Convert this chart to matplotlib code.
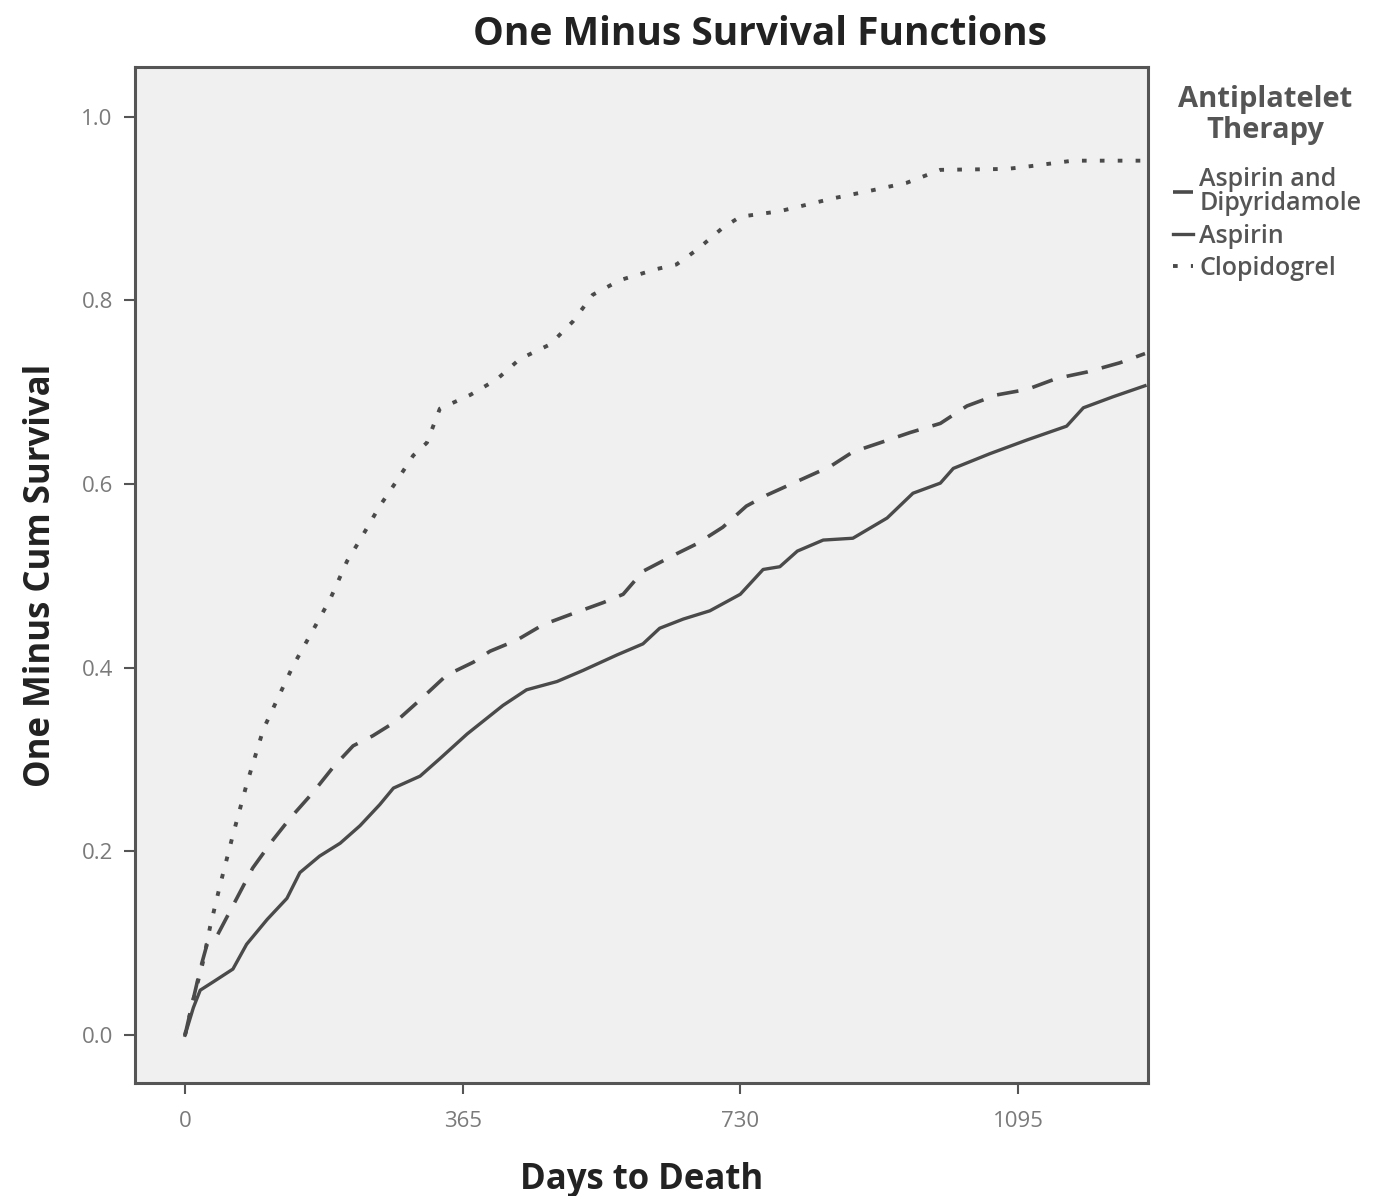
import matplotlib.pyplot as plt
import numpy as np

# Kaplan-Meier style curves (days, 1 - survival)
asp_days = [0, 11, 20, 37, 63, 81, 108, 134, 151, 177, 204, 230, 256, 274, 309, 335, 371,
            418, 449, 489, 523, 568, 602, 624, 655, 690, 730, 760, 782, 805, 839, 878, 923,
            957, 993, 1010, 1058, 1107, 1159, 1181, 1220, 1262]
asp_vals = [0, 0.030, 0.049, 0.058, 0.072, 0.099, 0.126, 0.149, 0.177, 0.195, 0.209, 0.228,
            0.251, 0.269, 0.282, 0.301, 0.328, 0.359, 0.376, 0.385, 0.397, 0.414, 0.426, 0.443,
            0.453, 0.462, 0.480, 0.507, 0.510, 0.527, 0.539, 0.541, 0.563, 0.590, 0.601, 0.617,
            0.633, 0.648, 0.663, 0.683, 0.695, 0.707]

dip_days = [0, 20, 29, 42, 63, 89, 116, 138, 168, 195, 221, 247, 278, 309, 344, 379, 401,
            436, 471, 510, 550, 576, 602, 646, 673, 707, 738, 765, 805, 848, 878, 914, 953,
            993, 1028, 1067, 1107, 1146, 1186, 1229, 1262]
dip_vals = [0, 0.072, 0.099, 0.108, 0.141, 0.182, 0.213, 0.236, 0.264, 0.292, 0.315, 0.326,
            0.342, 0.365, 0.392, 0.406, 0.418, 0.430, 0.447, 0.459, 0.471, 0.480, 0.505, 0.524,
            0.535, 0.553, 0.576, 0.588, 0.603, 0.619, 0.635, 0.645, 0.656, 0.666, 0.685, 0.697,
            0.703, 0.715, 0.722, 0.732, 0.742]

clo_days = [0, 11, 24, 33, 46, 63, 81, 103, 121, 142, 173, 191, 213, 230, 256, 278, 300, 318,
            335, 375, 410, 440, 480, 510, 536, 572, 620, 646, 673, 707, 730, 782, 852, 905,
            949, 993, 1080, 1102, 1167, 1262]
clo_vals = [0, 0.039, 0.081, 0.118, 0.163, 0.218, 0.273, 0.333, 0.365, 0.402, 0.448, 0.475,
            0.516, 0.539, 0.576, 0.603, 0.631, 0.645, 0.682, 0.697, 0.714, 0.736, 0.752, 0.777,
            0.806, 0.822, 0.834, 0.839, 0.855, 0.879, 0.891, 0.897, 0.911, 0.920, 0.928, 0.942,
            0.943, 0.945, 0.952, 0.952]

x_ticks = [0, 365, 730, 1095]
y_ticks = [0.0, 0.2, 0.4, 0.6, 0.8, 1.0]

plt.rcParams['font.family'] = ['Open Sans', 'DejaVu Sans']

fig = plt.figure(figsize=(13.82, 11.96), dpi=100)
ax = fig.add_axes([0.0977, 0.0945, 0.733, 0.8495])
ax.set_facecolor('#f0f0f0')

lc = '#4a4a4a'
ax.plot(dip_days, dip_vals, color=lc, lw=2.6, linestyle=(0, (6, 4)),
        label='Aspirin and\nDipyridamole')
ax.plot(asp_days, asp_vals, color=lc, lw=2.4, linestyle='-', label='Aspirin')
ax.plot(clo_days, clo_vals, color=lc, lw=2.8, linestyle=(0, (1.2, 3.4)),
        label='Clopidogrel')

ax.set_xlim(-65.7, 1266)
ax.set_ylim(-0.052, 1.054)
ax.set_xticks(x_ticks)
ax.set_xticklabels([str(t) for t in x_ticks])
ax.set_yticks(y_ticks)
ax.set_yticklabels([f'{t:.1f}' for t in y_ticks])
ax.tick_params(direction='out', length=8, width=1.5, color='#555555',
               labelcolor='#7a7a7a', labelsize=16)
ax.tick_params(axis='x', pad=12)
ax.tick_params(axis='y', pad=8)
for s in ax.spines.values():
    s.set_color('#555555')
    s.set_linewidth(2.2)

ax.set_xlabel('Days to Death', fontsize=25, fontweight='bold', color='#222222', labelpad=22)
ax.set_ylabel('One Minus Cum Survival', fontsize=25, fontweight='bold', color='#222222',
              labelpad=16)
fig.text(0.55, 0.971, 'One Minus Survival Functions', ha='center', va='center',
         fontsize=28, fontweight='bold', color='#222222')

# legend title placed on its own, SPSS-like spacing
ax.text(1.1155, 0.953, 'Antiplatelet\nTherapy', transform=ax.transAxes, ha='center',
        va='center', multialignment='center', fontsize=21, fontweight='bold',
        color='#555555', linespacing=1.1)
leg = ax.legend(loc='upper left', bbox_to_anchor=(1.0, 0.926), frameon=False,
                fontsize=18, handlelength=0.8, handletextpad=0.25, labelspacing=0.3,
                borderaxespad=0.6)
for t in leg.get_texts():
    t.set_color('#555555')
    t.set_fontweight('semibold')
    t.set_linespacing(0.95)

fig.savefig('out.png', dpi=100, facecolor='white')
